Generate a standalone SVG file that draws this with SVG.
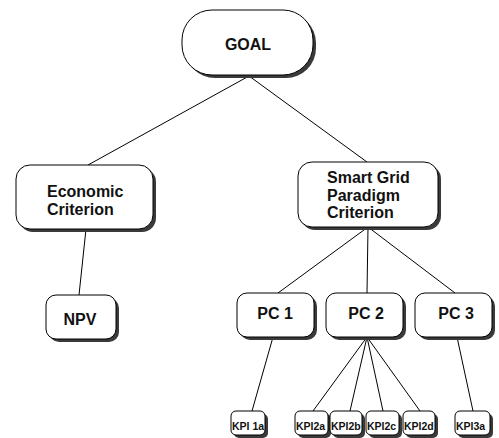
<svg xmlns="http://www.w3.org/2000/svg" width="499" height="438" viewBox="0 0 499 438">
  <defs>
    <style>
      .box { fill: #ffffff; stroke: #000000; stroke-width: 1; }
      .shadow { fill: #3a3a3a; }
      .edge { stroke: #000000; stroke-width: 1; fill: none; }
      .lbl { font-family: "Liberation Sans", Arial, sans-serif; font-weight: bold; fill: #111111; }
      .big { font-size: 16px; }
      .small { font-size: 10.5px; }
      .mid { text-anchor: middle; }
    </style>
  </defs>
  <rect width="499" height="438" fill="#ffffff"/>

  <!-- connectors -->
  <g id="connectors" class="edge">
    <line x1="249" y1="76" x2="88" y2="165"/>
    <line x1="249" y1="76" x2="367" y2="162"/>
    <line x1="86" y1="229" x2="79" y2="295"/>
    <line x1="368" y1="227" x2="278" y2="293"/>
    <line x1="368" y1="227" x2="367" y2="293"/>
    <line x1="368" y1="227" x2="455" y2="293"/>
    <line x1="273" y1="337" x2="252" y2="411"/>
    <line x1="367" y1="337" x2="313" y2="411"/>
    <line x1="367" y1="337" x2="350" y2="411"/>
    <line x1="367" y1="337" x2="383" y2="411"/>
    <line x1="367" y1="337" x2="420" y2="411"/>
    <line x1="457" y1="337" x2="473" y2="411"/>
  </g>

  <!-- goal -->
  <g id="goal">
    <rect class="shadow" x="185" y="13" width="131" height="65" rx="30"/>
    <rect class="box" x="182" y="10" width="131" height="65" rx="30"/>
    <text class="lbl big mid" x="248" y="50">GOAL</text>
  </g>

  <!-- criteria -->
  <g id="economic">
    <rect class="shadow" x="19" y="168" width="137" height="64" rx="14"/>
    <rect class="box" x="16" y="165" width="137" height="64" rx="14"/>
    <text class="lbl big" x="47" y="197">Economic</text>
    <text class="lbl big" x="47" y="215">Criterion</text>
  </g>

  <g id="smartgrid">
    <rect class="shadow" x="301" y="165" width="140" height="65" rx="14"/>
    <rect class="box" x="298" y="162" width="140" height="65" rx="14"/>
    <text class="lbl big" x="327" y="183">Smart Grid</text>
    <text class="lbl big" x="327" y="200.5">Paradigm</text>
    <text class="lbl big" x="327" y="218">Criterion</text>
  </g>

  <!-- second level -->
  <g id="npv">
    <rect class="shadow" x="49" y="298" width="70" height="44" rx="10"/>
    <rect class="box" x="46" y="295" width="70" height="44" rx="10"/>
    <text class="lbl big mid" x="80" y="325">NPV</text>
  </g>

  <g id="pc1">
    <rect class="shadow" x="240" y="296" width="77" height="44" rx="10"/>
    <rect class="box" x="237" y="293" width="77" height="44" rx="10"/>
    <text class="lbl big mid" x="275" y="319">PC 1</text>
  </g>

  <g id="pc2">
    <rect class="shadow" x="329" y="296" width="77" height="44" rx="10"/>
    <rect class="box" x="326" y="293" width="77" height="44" rx="10"/>
    <text class="lbl big mid" x="366" y="319">PC 2</text>
  </g>

  <g id="pc3">
    <rect class="shadow" x="418" y="296" width="77" height="44" rx="10"/>
    <rect class="box" x="415" y="293" width="77" height="44" rx="10"/>
    <text class="lbl big mid" x="456" y="319">PC 3</text>
  </g>

  <!-- indicators -->
  <g id="kpi1a">
    <rect class="shadow" x="234" y="414" width="34" height="24" rx="5"/>
    <rect class="box" x="231" y="411" width="34" height="24" rx="5"/>
    <text class="lbl small" x="232" y="429.5">KPI 1a</text>
  </g>

  <g id="kpi2a">
    <rect class="shadow" x="298" y="414" width="33" height="24" rx="5"/>
    <rect class="box" x="295" y="411" width="33" height="24" rx="5"/>
    <text class="lbl small" x="296" y="429.5">KPI2a</text>
  </g>

  <g id="kpi2b">
    <rect class="shadow" x="333" y="414" width="32" height="24" rx="5"/>
    <rect class="box" x="330" y="411" width="32" height="24" rx="5"/>
    <text class="lbl small" x="331" y="429.5">KPI2b</text>
  </g>

  <g id="kpi2c">
    <rect class="shadow" x="369" y="414" width="33" height="24" rx="5"/>
    <rect class="box" x="366" y="411" width="33" height="24" rx="5"/>
    <text class="lbl small" x="367" y="429.5">KPI2c</text>
  </g>

  <g id="kpi2d">
    <rect class="shadow" x="406" y="414" width="32" height="24" rx="5"/>
    <rect class="box" x="403" y="411" width="32" height="24" rx="5"/>
    <text class="lbl small" x="404" y="429.5">KPI2d</text>
  </g>

  <g id="kpi3a">
    <rect class="shadow" x="458" y="414" width="35" height="24" rx="5"/>
    <rect class="box" x="455" y="411" width="35" height="24" rx="5"/>
    <text class="lbl small" x="456" y="429.5">KPI3a</text>
  </g>
</svg>
